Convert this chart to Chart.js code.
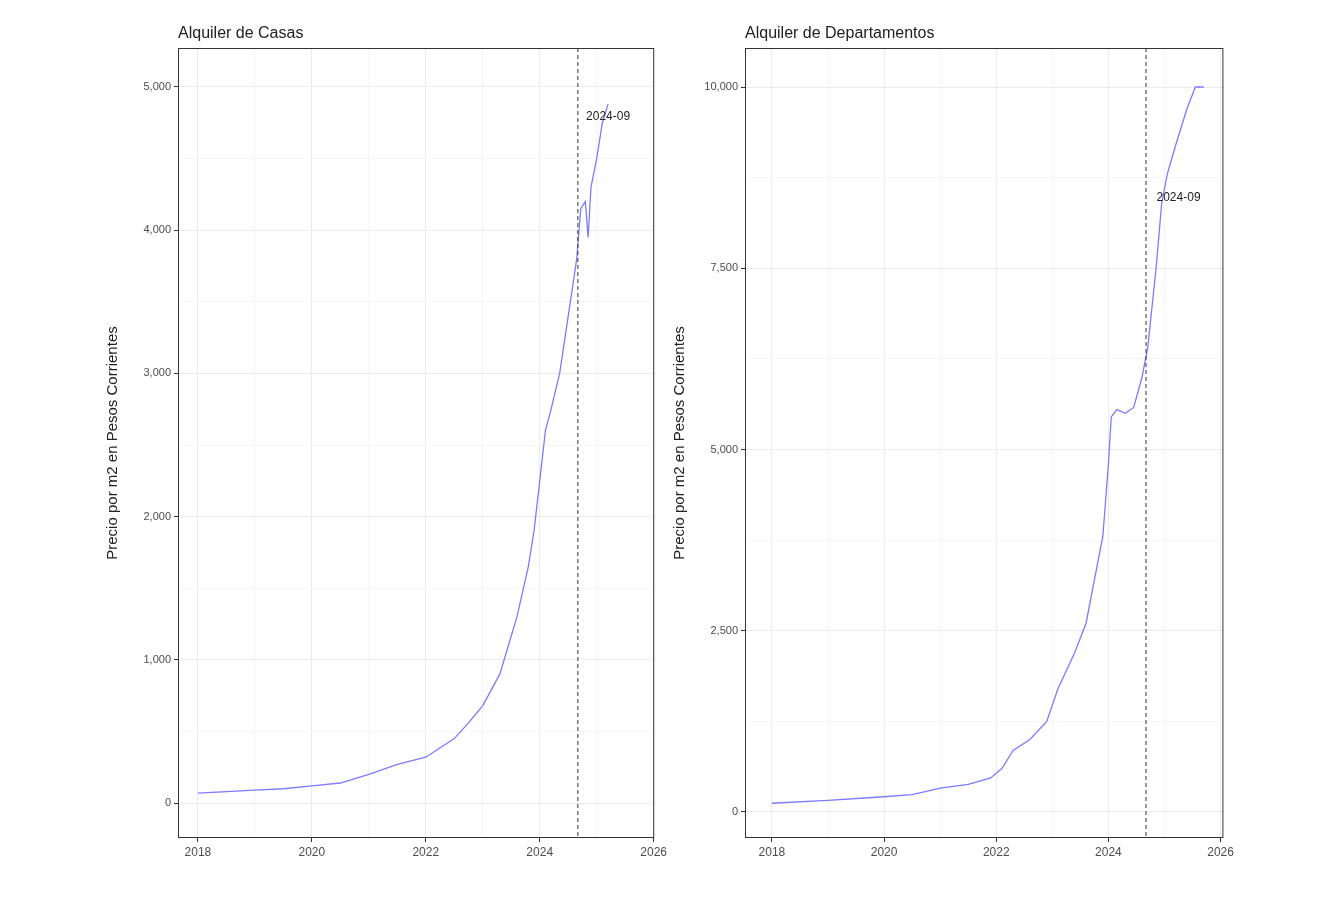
<!DOCTYPE html>
<html><head><meta charset="utf-8">
<script src="https://cdn.jsdelivr.net/npm/chart.js@4"></script>
<style>
body{margin:0;background:#fff;width:1338px;height:904px;position:relative;overflow:hidden}
.box{position:absolute;top:0;height:904px}
</style></head><body>
<div class="box" style="left:100px;width:570px"><canvas id="c1"></canvas></div>
<div class="box" style="left:667px;width:570px"><canvas id="c2"></canvas></div>
<script>
// ============ DATA ============
const casasX = [2018,2018.5,2019,2019.5,2020,2020.5,2021,2021.5,2022,2022.5,2022.75,2023,2023.3,2023.6,2023.8,2023.9,2024.0,2024.1,2024.2,2024.35,2024.5,2024.65,2024.72,2024.8,2024.85,2024.9,2025.0,2025.1,2025.2];
const casasY = [70,80,90,100,120,140,200,270,320,450,560,680,900,1300,1650,1900,2250,2600,2750,3000,3400,3800,4150,4200,3950,4300,4500,4750,4880];
const deptosX = [2018,2019,2020,2020.5,2021,2021.5,2021.9,2022.1,2022.3,2022.6,2022.9,2023.1,2023.4,2023.6,2023.75,2023.9,2024.0,2024.05,2024.15,2024.3,2024.45,2024.6,2024.7,2024.85,2024.95,2025.05,2025.2,2025.4,2025.55,2025.7];
const deptosY = [120,160,210,240,330,380,470,600,850,1000,1250,1700,2200,2600,3200,3800,4800,5450,5550,5500,5580,6000,6400,7500,8400,8800,9200,9700,10000,10000];
const markX = 2024.67;
const markLabel = '2024-09';

function pts(xs, ys){ return xs.map((x,i)=>({x:x,y:ys[i]})); }

const deco = {
  id:'deco',
  afterDatasetsDraw(chart, args, o){
    const {ctx, chartArea:a, scales:{x,y}} = chart;
    ctx.save();
    ctx.strokeStyle='#333'; ctx.lineWidth=1; ctx.setLineDash([4,3]);
    const px = x.getPixelForValue(markX);
    ctx.beginPath(); ctx.moveTo(px,a.top); ctx.lineTo(px,a.bottom); ctx.stroke();
    ctx.setLineDash([]);
    ctx.fillStyle='#222'; ctx.font='12px "Liberation Sans", Arial'; ctx.textAlign='center'; ctx.textBaseline='middle';
    ctx.fillText(markLabel, x.getPixelForValue(o.lx), y.getPixelForValue(o.ly));
    ctx.strokeStyle='#333'; ctx.strokeRect(a.left+0.5,a.top+0.5,a.right-a.left-1,a.bottom-a.top-1);
    ctx.textAlign='left'; ctx.textBaseline='alphabetic'; ctx.font='16px "Liberation Sans", Arial';
    ctx.fillText(o.title, a.left, a.top-10);
    ctx.restore();
  }
};

function make(id, xs, ys, title, xmin, xmax, ymin, ymax, ystep, lx, ly, padR){
  new Chart(document.getElementById(id), {
    type:'line',
    data:{datasets:[{data:pts(xs,ys), borderColor:'#7b7bff', borderWidth:1.3, pointRadius:0, tension:0}]},
    plugins:[deco],
    options:{
      responsive:true, maintainAspectRatio:false, animation:false,
      layout:{padding:{top:48,right:padR,left:0,bottom:0}},
      plugins:{legend:{display:false}, tooltip:{enabled:false}, deco:{title:title,lx:lx,ly:ly}},
      scales:{
        x:{type:'linear', min:xmin, max:xmax, afterFit:s=>{s.height=66;},
          afterBuildTicks:s=>{s.ticks=[];for(let v=2017;v<=2026;v++){ if(v>=xmin&&v<=xmax) s.ticks.push({value:v}); }},
          grid:{color:c=>c.tick&&c.tick.value%2===0?'#ebebeb':'#f5f5f5', tickLength:4,
            tickColor:c=>c.tick&&c.tick.value%2===0?'#333':'rgba(0,0,0,0)', drawTicks:true},
          border:{display:false},
          ticks:{color:'#4d4d4d', font:{size:12,family:'"Liberation Sans", Arial'}, maxRotation:0, autoSkip:false,
            callback:v=>v%2===0?String(v):''}},
        y:{min:ymin, max:ymax, afterFit:s=>{s.width=78;},
          afterBuildTicks:s=>{s.ticks=[];for(let v=0;v<=ymax;v+=ystep/2) s.ticks.push({value:v});},
          grid:{color:c=>c.tick&&c.tick.value%ystep===0?'#ebebeb':'#f5f5f5', tickLength:4,
            tickColor:c=>c.tick&&c.tick.value%ystep===0?'#333':'rgba(0,0,0,0)'},
          border:{display:false},
          title:{display:true, text:'Precio por m2 en Pesos Corrientes', color:'#222', padding:{top:4,bottom:8}, font:{size:15,family:'"Liberation Sans", Arial'}},
          ticks:{color:'#4d4d4d', font:{size:11,family:'"Liberation Sans", Arial'}, autoSkip:false,
            callback:v=>v%ystep===0?v.toLocaleString('en-US'):''}}
      }
    }
  });
}
make('c1', casasX, casasY, 'Alquiler de Casas', 2017.65, 2026.01, -244, 5272, 1000, 2025.2, 4790, 8);
make('c2', deptosX, deptosY, 'Alquiler de Departamentos', 2017.52, 2026.05, -359, 10538, 2500, 2025.25, 8480, 10);
</script>
</body></html>
